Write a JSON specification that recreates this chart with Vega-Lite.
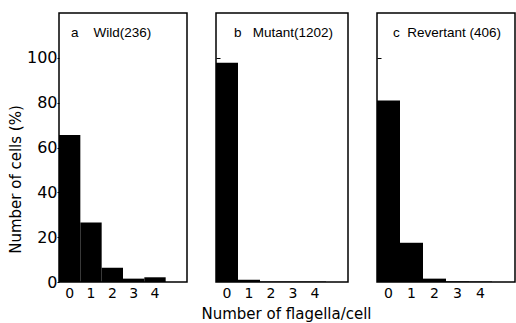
{
  "$schema": "https://vega.github.io/schema/vega-lite/v6.json",
  "padding": {"left": 7, "top": 12, "right": 0, "bottom": 0},
  "background": "white",
  "datasets": {
    "d": [
      {"panel": "Wild", "n": 0, "pct": 65.6},
      {"panel": "Wild", "n": 1, "pct": 26.5},
      {"panel": "Wild", "n": 2, "pct": 6.4},
      {"panel": "Wild", "n": 3, "pct": 1.5},
      {"panel": "Wild", "n": 4, "pct": 2.1},
      {"panel": "Mutant", "n": 0, "pct": 97.8},
      {"panel": "Mutant", "n": 1, "pct": 1.0},
      {"panel": "Mutant", "n": 2, "pct": 0.2},
      {"panel": "Mutant", "n": 3, "pct": 0.2},
      {"panel": "Mutant", "n": 4, "pct": 0.2},
      {"panel": "Revertant", "n": 0, "pct": 81.0},
      {"panel": "Revertant", "n": 1, "pct": 17.5},
      {"panel": "Revertant", "n": 2, "pct": 1.5},
      {"panel": "Revertant", "n": 3, "pct": 0.3},
      {"panel": "Revertant", "n": 4, "pct": 0.2}
    ]
  },
  "config": {
    "font": "DejaVu Sans",
    "view": {"stroke": "black", "strokeWidth": 1.5},
    "axis": {
      "grid": false,
      "domain": false,
      "labelFont": "DejaVu Sans",
      "titleFont": "DejaVu Sans",
      "labelColor": "black",
      "titleColor": "black",
      "tickColor": "black",
      "titleFontWeight": "normal"
    },
    "title": {"font": "Liberation Sans", "fontWeight": "normal", "fontSize": 13.5, "color": "black", "frame": "group"}
  },
  "bounds": "flush",
  "spacing": 29,
  "hconcat": [
    {
      "width": 128,
      "height": 269,
      "data": {"name": "d"},
      "transform": [{"filter": "datum.panel == 'Wild'"}],
      "title": {"text": "a\u00a0\u00a0\u00a0\u00a0Wild(236)", "anchor": "start", "offset": -26, "dx": 12},
      "mark": {"type": "bar", "color": "black"},
      "encoding": {
        "x": {
          "field": "n", "type": "ordinal",
          "scale": {"domain": [0, 1, 2, 3, 4, 5], "paddingInner": 0, "paddingOuter": 0},
          "axis": {"title": null, "labelAngle": 0, "ticks": false, "labelFontSize": 14, "labelPadding": 4,
                   "labelExpr": "datum.value == 5 ? '' : datum.label"}
        },
        "y": {
          "field": "pct", "type": "quantitative",
          "scale": {"domain": [0, 120], "nice": false},
          "axis": {"title": "Number of cells (%)", "values": [0, 20, 40, 60, 80, 100], "tickSize": 2,
                   "labelFontSize": 16, "labelPadding": 0, "titleFontSize": 15, "titlePadding": 3, "titleY": 166}
        }
      }
    },
    {
      "width": 132,
      "height": 269,
      "data": {"name": "d"},
      "transform": [{"filter": "datum.panel == 'Mutant'"}],
      "title": {"text": "b\u00a0\u00a0\u00a0Mutant(1202)", "anchor": "start", "offset": -26, "dx": 18},
      "mark": {"type": "bar", "color": "black"},
      "encoding": {
        "x": {
          "field": "n", "type": "ordinal",
          "scale": {"domain": [0, 1, 2, 3, 4, 5], "paddingInner": 0, "paddingOuter": 0},
          "axis": {"title": "Number of flagella/cell", "labelAngle": 0, "ticks": false, "labelFontSize": 14, "labelPadding": 4,
                   "titleFontSize": 15, "titlePadding": 6, "titleX": 70,
                   "labelExpr": "datum.value == 5 ? '' : datum.label"}
        },
        "y": {
          "field": "pct", "type": "quantitative",
          "scale": {"domain": [0, 120], "nice": false},
          "axis": {"title": null, "labels": false, "values": [100], "tickSize": -4}
        }
      }
    },
    {
      "width": 138,
      "height": 269,
      "data": {"name": "d"},
      "transform": [{"filter": "datum.panel == 'Revertant'"}],
      "title": {"text": "c\u00a0\u00a0Revertant (406)", "anchor": "start", "offset": -26, "dx": 16},
      "mark": {"type": "bar", "color": "black"},
      "encoding": {
        "x": {
          "field": "n", "type": "ordinal",
          "scale": {"domain": [0, 1, 2, 3, 4, 5], "paddingInner": 0, "paddingOuter": 0},
          "axis": {"title": null, "labelAngle": 0, "ticks": false, "labelFontSize": 14, "labelPadding": 4,
                   "labelExpr": "datum.value == 5 ? '' : datum.label"}
        },
        "y": {
          "field": "pct", "type": "quantitative",
          "scale": {"domain": [0, 120], "nice": false},
          "axis": {"title": null, "labels": false, "values": [100], "tickSize": -4}
        }
      }
    }
  ]
}
